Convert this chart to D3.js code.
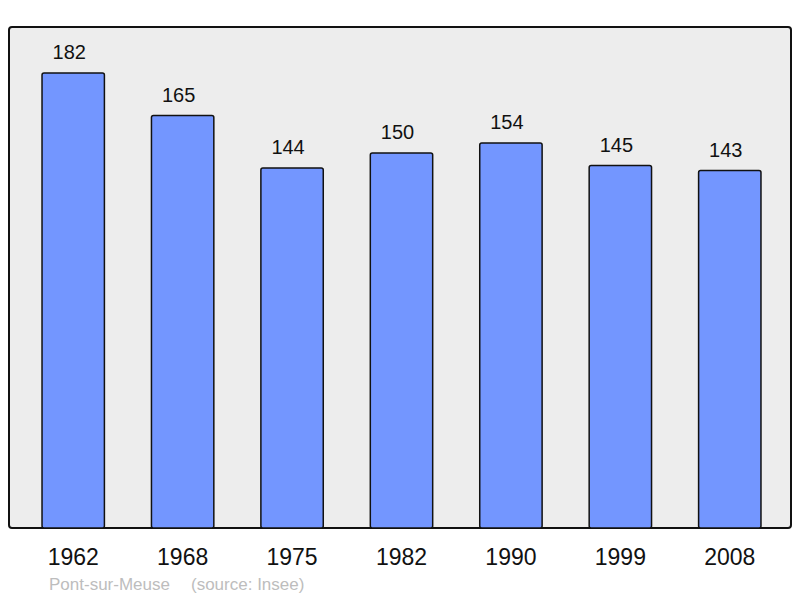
<!DOCTYPE html>
<html>
<head>
<meta charset="utf-8">
<script src="https://cdn.jsdelivr.net/npm/d3@7"></script>
<style>
  body { margin: 0; background: #fff; }
  svg { display: block; font-family: "Liberation Sans", Arial, sans-serif; }
</style>
</head>
<body>
<svg id="chart" width="800" height="598"></svg>
<script>
const years = ['1962', '1968', '1975', '1982', '1990', '1999', '2008'];
const population = [182, 165, 144, 150, 154, 145, 143];
const place = 'Pont-sur-Meuse';
const source = '(source: Insee)';

const svg = d3.select('#chart');
const frame = { left: 9, top: 27, right: 791, bottom: 528 };

const x = d3.scaleBand()
  .domain(years)
  .range([18.5, 784.5])
  .paddingInner(0.43)
  .paddingOuter(0.215);

const y = d3.scaleLinear()
  .domain([0, 200])
  .range([frame.bottom, frame.top + 1]);

svg.append('rect')
  .attr('x', frame.left)
  .attr('y', frame.top)
  .attr('width', frame.right - frame.left)
  .attr('height', frame.bottom - frame.top)
  .attr('rx', 3)
  .attr('fill', '#ededed')
  .attr('stroke', '#111')
  .attr('stroke-width', 2);

const bars = svg.append('g').selectAll('g')
  .data(years.map((yr, i) => ({ year: yr, value: population[i] })))
  .join('g');

bars.append('rect')
  .attr('x', (d) => x(d.year))
  .attr('y', (d) => y(d.value))
  .attr('width', x.bandwidth())
  .attr('height', (d) => y(0) - y(d.value))
  .attr('rx', 2)
  .attr('fill', '#7396ff')
  .attr('stroke', '#111')
  .attr('stroke-width', 1.5);

bars.append('text')
  .attr('x', (d) => x(d.year) + x.bandwidth() / 2 - 4)
  .attr('y', (d) => y(d.value) - 14)
  .attr('text-anchor', 'middle')
  .attr('font-size', 20)
  .attr('fill', '#111')
  .text((d) => d.value);

// year axis, no line
const axis = svg.append('g')
  .attr('transform', `translate(0,${frame.bottom})`)
  .call(d3.axisBottom(x).tickSize(0).tickPadding(0));
axis.select('.domain').remove();
axis.selectAll('text')
  .attr('dy', null)
  .attr('y', 37)
  .attr('font-size', 23)
  .attr('font-family', '"Liberation Sans", Arial, sans-serif')
  .attr('fill', '#111');

svg.append('text')
  .attr('x', 49)
  .attr('y', 590)
  .attr('font-size', 17)
  .attr('fill', '#bdbdbd')
  .text(place);

svg.append('text')
  .attr('x', 191)
  .attr('y', 590)
  .attr('font-size', 17)
  .attr('fill', '#bdbdbd')
  .text(source);
</script>
</body>
</html>
